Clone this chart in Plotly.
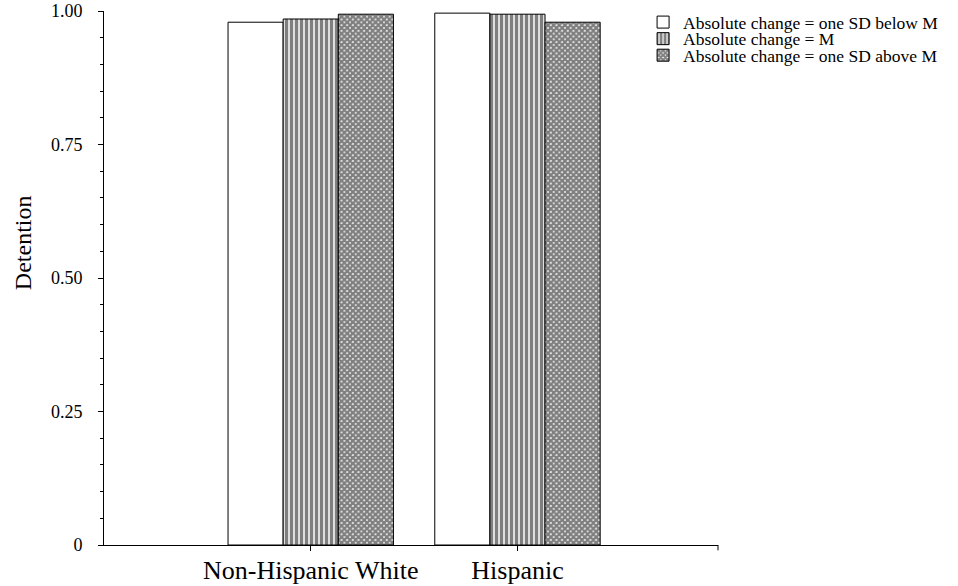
import plotly.graph_objects as go

categories = ["Non-Hispanic White", "Hispanic"]
series_names = [
    "Absolute change = one SD below M",
    "Absolute change = M",
    "Absolute change = one SD above M",
]
below_m = [0.979, 0.996]
at_m = [0.985, 0.994]
above_m = [0.994, 0.979]
y_tickvals = [0, 0.25, 0.5, 0.75, 1.0]
y_ticktext = ["0", "0.25", "0.50", "0.75", "1.00"]
y_title = "Detention"

FONT = "Liberation Serif, Times New Roman, serif"
LEG_FONT = dict(family=FONT, size=17.5, color="black")

fig = go.Figure()
fig.add_trace(go.Bar(
    x=categories, y=below_m, name=series_names[0], legend="legend",
    marker=dict(color="white", line=dict(color="black", width=1)),
))
fig.add_trace(go.Bar(
    x=categories, y=at_m, name=series_names[1], legend="legend2",
    marker=dict(color="white", line=dict(color="black", width=1),
                pattern=dict(shape="|", fgcolor="black", bgcolor="white",
                             size=5, solidity=0.7, fillmode="overlay")),
))
fig.add_trace(go.Bar(
    x=categories, y=above_m, name=series_names[2], legend="legend3",
    marker=dict(color="white", line=dict(color="black", width=1),
                pattern=dict(shape="x", fgcolor="black", bgcolor="white",
                             size=4, solidity=0.85, fillmode="overlay")),
))

leg_common = dict(xanchor="left", yanchor="middle", font=LEG_FONT,
                  bgcolor="rgba(0,0,0,0)", borderwidth=0)
fig.update_layout(
    width=958, height=586,
    margin=dict(l=104, r=240, t=11, b=41, autoexpand=False),
    paper_bgcolor="white", plot_bgcolor="white",
    barmode="group", bargap=0.2, bargroupgap=0,
    font=dict(family=FONT, color="black"),
    showlegend=True,
    legend=dict(x=0.878, y=0.979, **leg_common),
    legend2=dict(x=0.878, y=0.948, **leg_common),
    legend3=dict(x=0.878, y=0.917, **leg_common),
)
fig.add_shape(type="line", xref="paper", yref="paper", x0=1, x1=1, y0=0, y1=-0.01,
              line=dict(color="black", width=1))
fig.add_annotation(text=y_title, xref="paper", yref="paper", x=-0.132, y=0.567,
                   textangle=-90, showarrow=False, xanchor="center", yanchor="middle",
                   font=dict(family=FONT, size=24, color="black"))
fig.update_xaxes(
    range=[-1, 1.97], showline=True, linecolor="black", linewidth=1,
    ticks="outside", ticklen=5, tickcolor="black", automargin=False,
    ticklabelstandoff=-3,
    tickfont=dict(family=FONT, size=26, color="black"),
    showgrid=False, zeroline=False,
)
fig.update_yaxes(
    range=[0, 1.0], showline=True, linecolor="black", linewidth=1,
    tickvals=y_tickvals, ticktext=y_ticktext, automargin=False,
    ticks="outside", ticklen=5, tickcolor="black", ticklabelstandoff=12,
    minor=dict(dtick=0.05, ticks="outside", ticklen=3, tickcolor="black", showgrid=False),
    tickfont=dict(family=FONT, size=18, color="black"),
    showgrid=False, zeroline=False,
)
fig.write_html("out.html", config={"displayModeBar": False},
               post_script="document.body.style.margin='0';document.body.style.overflow='hidden';")
